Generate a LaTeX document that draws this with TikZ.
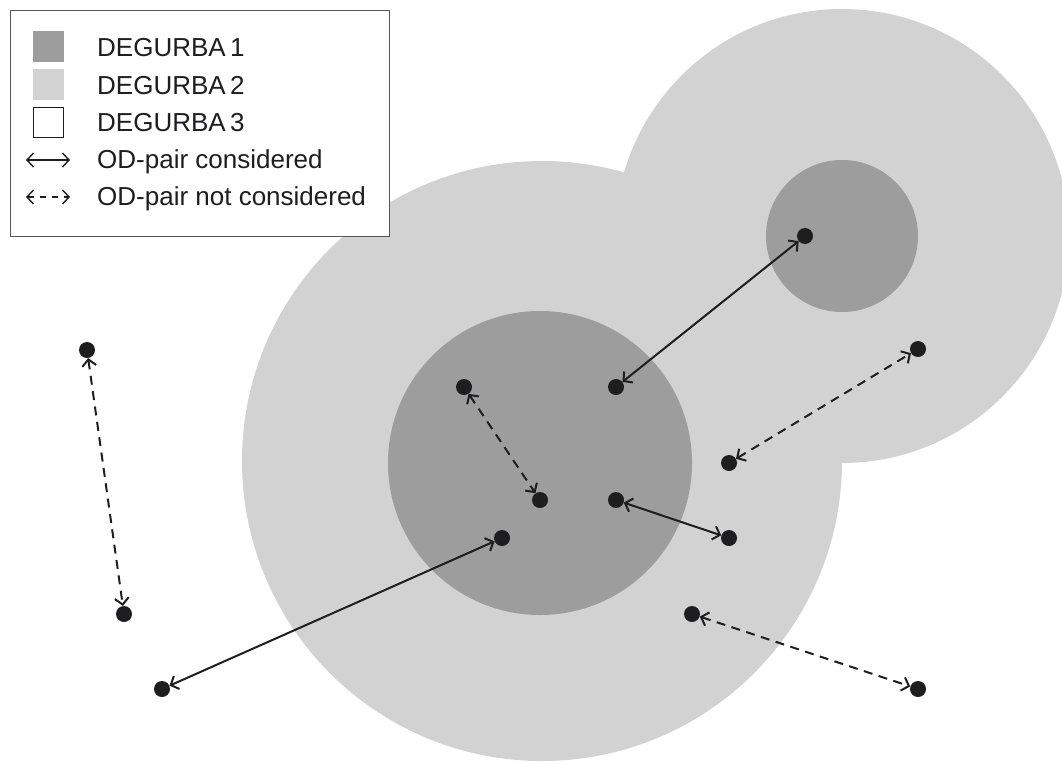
\documentclass[tikz,border=0pt]{standalone}
\usepackage{fontspec}
\setmainfont{Liberation Sans}
\usetikzlibrary{arrows.meta}
\definecolor{urbandark}{HTML}{9D9D9D}
\definecolor{urbanlight}{HTML}{D2D2D2}
\definecolor{inkc}{HTML}{1E1E20}
\definecolor{framec}{HTML}{555555}
\begin{document}
\begin{tikzpicture}[x=1pt,y=-1pt,
  dot/.style={circle,fill=inkc,draw=none,inner sep=0pt,minimum size=16pt},
  od/.style={draw=inkc,line width=2pt,{Straight Barb[length=6.5pt,width=14pt]}-{Straight Barb[length=6.5pt,width=14pt]}},
  odno/.style={od,dash pattern=on 9pt off 6.5pt},
  swatch/.style={minimum size=31pt,inner sep=0pt,draw=none},
  legtext/.style={anchor=base west,inner sep=0pt,font=\fontsize{26}{30}\selectfont,text=inkc}]
\useasboundingbox (0,0) rectangle (1062,763);

% DEGURBA 2 zones
\fill[urbanlight] (542,461) circle[radius=300pt];
\fill[urbanlight] (842,236) circle[radius=227pt];
% DEGURBA 1 cores
\fill[urbandark] (540,463) circle[radius=152pt];
\fill[urbandark] (842,236) circle[radius=76pt];

% locations
\node[dot] (a1) at (87,350) {};
\node[dot] (a2) at (124,614) {};
\node[dot] (b1) at (162,689) {};
\node[dot] (b2) at (502,538) {};
\node[dot] (c1) at (464,387) {};
\node[dot] (c2) at (540,500) {};
\node[dot] (d1) at (616,387) {};
\node[dot] (d2) at (805,236) {};
\node[dot] (e1) at (616,500) {};
\node[dot] (e2) at (729,538) {};
\node[dot] (f1) at (729,463) {};
\node[dot] (f2) at (918,349) {};
\node[dot] (g1) at (692,614) {};
\node[dot] (g2) at (918,689) {};

% OD pairs
\draw[odno] (a1) -- (a2);
\draw[od] (b1) -- (b2);
\draw[odno] (c1) -- (c2);
\draw[od] (d1) -- (d2);
\draw[od] (e1) -- (e2);
\draw[odno] (f1) -- (f2);
\draw[odno] (g1) -- (g2);

% legend
\node[draw=framec,fill=white,line width=1.2pt,minimum width=379pt,minimum height=226pt,inner sep=0pt,anchor=north west] (legend) at (10,10) {};
\node[swatch,fill=urbandark] (s1) at (48.5,46.5) {};
\node[swatch,fill=urbanlight] (s2) at (48.5,84.5) {};
\node[swatch,draw=inkc,line width=1pt,fill=white,minimum size=30pt] (s3) at (48.5,122) {};
\node[legtext] (t1) at (97,56) {DEGURBA\,1};
\node[legtext] (t2) at (97,94) {DEGURBA\,2};
\node[legtext] (t3) at (97,131.5) {DEGURBA\,3};
\node[legtext] (t4) at (97,168.5) {OD-pair considered};
\node[legtext] (t5) at (97,205.5) {OD-pair not considered};
\coordinate (la) at (26,160);
\coordinate (lb) at (70,160);
\coordinate (lc) at (26,197);
\coordinate (ld) at (70,197);
\draw[od,line width=1.4pt] (la) -- (lb);
\draw[odno,line width=1.4pt,dash pattern=on 6pt off 6pt] (lc) -- (ld);
\end{tikzpicture}
\end{document}
